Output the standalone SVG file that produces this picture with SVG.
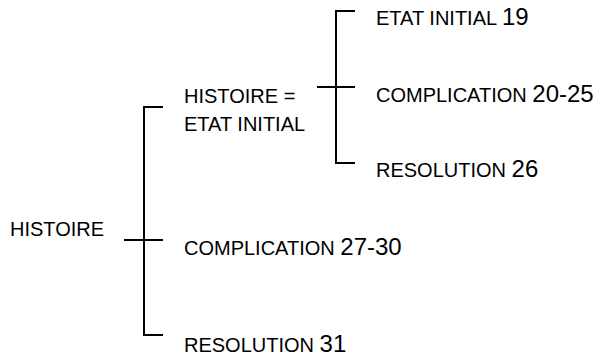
<svg xmlns="http://www.w3.org/2000/svg" width="613" height="356" viewBox="0 0 613 356">
<style>
.l{font-family:"Liberation Sans",Arial,sans-serif;font-size:20px;fill:#000}
.n{font-size:24px}
.c{stroke:#000;stroke-width:2;fill:none}
</style>
<rect width="613" height="356" fill="#fff"/>
<g id="connectors">
<path class="c" d="M163,107 H144 V335 H163 M124,240 H163"/>
<path class="c" d="M355,11 H336 V163 H355 M317,87 H355"/>
</g>
<g id="histoire"><text class="l" x="10" y="236">HISTOIRE</text></g>
<g id="histoire-etat"><text class="l" x="184" y="103">HISTOIRE =</text><text class="l" x="184" y="130.5">ETAT INITIAL</text></g>
<g id="etat-initial"><text class="l" x="376" y="25">ETAT INITIAL <tspan class="n">19</tspan></text></g>
<g id="complication1"><text class="l" x="376" y="102">COMPLICATION <tspan class="n">20-25</tspan></text></g>
<g id="resolution1"><text class="l" x="376" y="177">RESOLUTION <tspan class="n">26</tspan></text></g>
<g id="complication2"><text class="l" x="184" y="255">COMPLICATION <tspan class="n">27-30</tspan></text></g>
<g id="resolution2"><text class="l" x="184" y="352">RESOLUTION <tspan class="n">31</tspan></text></g>
</svg>
